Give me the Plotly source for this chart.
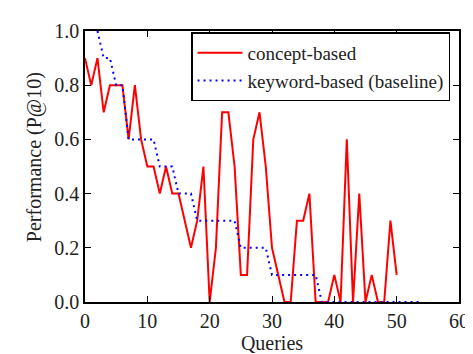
import plotly.graph_objects as go

queries_concept = list(range(0, 51))
concept_based = [0.9, 0.8, 0.9, 0.7, 0.8, 0.8, 0.8, 0.6, 0.8, 0.6,
                 0.5, 0.5, 0.4, 0.5, 0.4, 0.4, 0.3, 0.2, 0.3, 0.5,
                 0.0, 0.2, 0.7, 0.7, 0.5, 0.1, 0.1, 0.6, 0.7, 0.5,
                 0.2, 0.1, 0.0, 0.0, 0.3, 0.3, 0.4, 0.0, 0.0, 0.0,
                 0.1, 0.0, 0.6, 0.0, 0.4, 0.0, 0.1, 0.0, 0.0, 0.3,
                 0.1]

queries_keyword = list(range(2, 55))
keyword_based = [1.0, 0.9, 0.9, 0.8, 0.8, 0.6, 0.6, 0.6,
                 0.6, 0.6, 0.5, 0.5, 0.5, 0.4, 0.4, 0.4, 0.3, 0.3,
                 0.3, 0.3, 0.3, 0.3, 0.3, 0.2, 0.2, 0.2, 0.2, 0.2,
                 0.1, 0.1, 0.1, 0.1, 0.1, 0.1, 0.1, 0.1, 0.0, 0.0,
                 0.0, 0.0, 0.0, 0.0, 0.0, 0.0, 0.0, 0.0, 0.0, 0.0,
                 0.0, 0.0, 0.0, 0.0, 0.0]

x_ticks = [0, 10, 20, 30, 40, 50, 60]
y_ticks = [0.0, 0.2, 0.4, 0.6, 0.8, 1.0]

FONT = "Liberation Serif"
TXT = "#222"

fig = go.Figure()
fig.add_trace(go.Scatter(x=queries_concept, y=concept_based, mode="lines",
                         name="concept-based",
                         line=dict(color="#ff0000", width=2)))
fig.add_trace(go.Scatter(x=queries_keyword, y=keyword_based, mode="lines",
                         name="keyword-based (baseline)",
                         line=dict(color="#0000ff", width=2, dash="2px,4px")))

axis_common = dict(showgrid=False, zeroline=False, showline=True, linecolor="black",
                   linewidth=1.5, mirror="ticks", ticks="inside", ticklen=6,
                   tickwidth=1, tickcolor="black", layer="above traces",
                   ticklabeloverflow="allow",
                   tickfont=dict(family=FONT, size=20, color=TXT))

fig.update_xaxes(range=[0, 60], tickvals=x_ticks,
                 title=dict(text="Queries", font=dict(family=FONT, size=20, color=TXT), standoff=4),
                 **axis_common)
fig.update_yaxes(range=[0, 1.0], tickvals=y_ticks, tickformat=".1f", **axis_common)

fig.add_annotation(text="Performance (P@10)", textangle=-90, xref="paper", yref="paper",
                   x=-0.136, y=0.535, xanchor="center", yanchor="middle", showarrow=False,
                   font=dict(family=FONT, size=20, color=TXT))

fig.update_layout(
    width=473, height=354,
    margin=dict(l=77, r=13, t=23, b=48),
    paper_bgcolor="white", plot_bgcolor="white",
    showlegend=True,
    legend=dict(x=0.976, y=0.995, xanchor="right", yanchor="top",
                bordercolor="black", borderwidth=1.5, bgcolor="white",
                font=dict(family=FONT, size=19, color=TXT),
                itemwidth=45, tracegroupgap=0),
)

fig.write_html("out.html")
